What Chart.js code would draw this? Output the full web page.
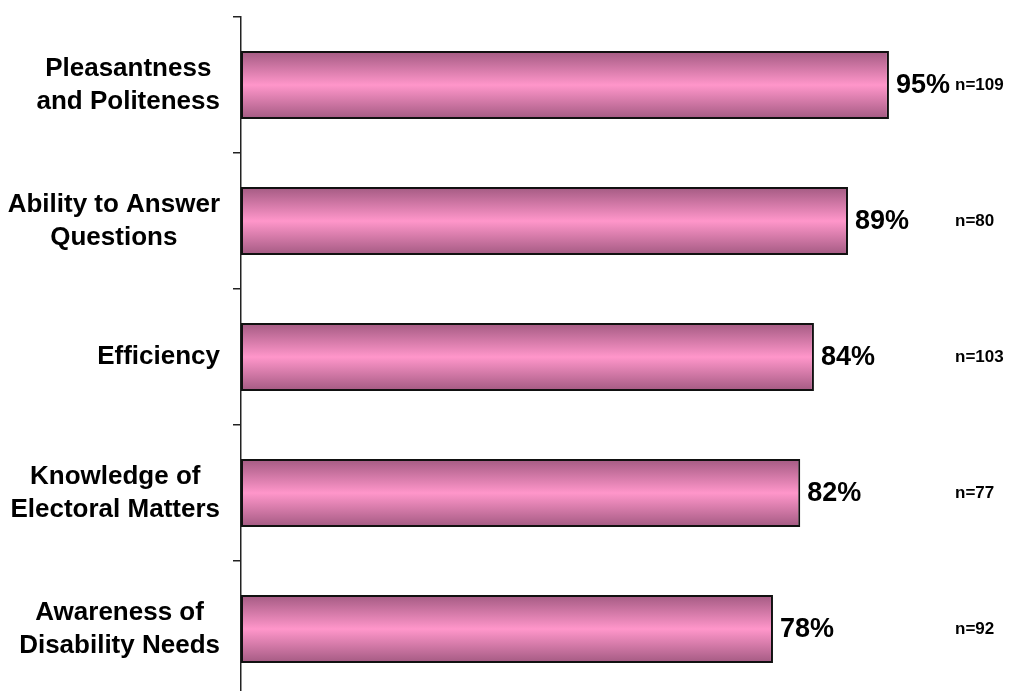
<!DOCTYPE html>
<html>
<head>
<meta charset="utf-8">
<script src="https://cdn.jsdelivr.net/npm/chart.js@4"></script>
<style>
  html, body { margin: 0; padding: 0; background: #fff; overflow: hidden; }
  #wrap { position: absolute; left: 0; top: 0; width: 1009px; height: 697px; }
</style>
</head>
<body>
<div id="wrap"><canvas id="chart"></canvas></div>
<script>
const categories = [
  ['Pleasantness', 'and Politeness'],
  ['Ability to Answer', 'Questions'],
  ['Efficiency'],
  ['Knowledge of', 'Electoral Matters'],
  ['Awareness of', 'Disability Needs']
];
const satisfaction = [95, 89, 84, 82, 78];
const sampleSizes = [109, 80, 103, 77, 92];

const FONT = '"Liberation Sans", Arial, sans-serif';

// vertical pink shading inside each bar
function barGradient(c) {
  const chart = c.chart;
  const ys = chart.scales.y;
  if (!chart.chartArea || !ys || c.dataIndex === undefined) return '#ff94c9';
  const cy = ys.getPixelForValue(c.dataIndex);
  const half = (ys.height / categories.length) * 0.25;
  const g = chart.ctx.createLinearGradient(0, cy - half, 0, cy + half);
  g.addColorStop(0, '#a35a82');
  g.addColorStop(0.5, '#ff96ca');
  g.addColorStop(1, '#a35a82');
  return g;
}

const labelPlugin = {
  id: 'labelPlugin',
  afterDraw(chart) {
    const ctx = chart.ctx;
    const ys = chart.scales.y;
    const meta = chart.getDatasetMeta(0);
    ctx.save();
    ctx.fillStyle = '#000';
    ctx.textBaseline = 'middle';

    // category names, lines centred, block right-aligned
    ctx.font = 'bold 26px ' + FONT;
    ctx.textAlign = 'center';
    categories.forEach((lines, i) => {
      const cy = ys.getPixelForValue(i);
      const w = Math.max(...lines.map(l => ctx.measureText(l).width));
      const cx = 220 - w / 2;
      const lh = 33;
      lines.forEach((l, k) => {
        ctx.fillText(l, cx, cy + (k - (lines.length - 1) / 2) * lh);
      });
    });

    // percentages at bar ends
    ctx.textAlign = 'left';
    ctx.font = 'bold 27px ' + FONT;
    meta.data.forEach((bar, i) => {
      ctx.fillText(satisfaction[i] + '%', bar.x + 7, bar.y + 1);
    });

    // sample sizes
    ctx.font = 'bold 17px ' + FONT;
    meta.data.forEach((bar, i) => {
      ctx.fillText('n=' + sampleSizes[i], 955, bar.y);
    });
    ctx.restore();
  }
};

new Chart(document.getElementById('chart'), {
  type: 'bar',
  data: {
    labels: categories,
    datasets: [{
      data: satisfaction,
      backgroundColor: barGradient,
      borderColor: '#111',
      borderWidth: 2,
      borderSkipped: false,
      barPercentage: 0.5,
      categoryPercentage: 1.0
    }]
  },
  options: {
    indexAxis: 'y',
    responsive: true,
    maintainAspectRatio: false,
    animation: false,
    layout: { padding: { top: 17, right: 86, bottom: 0, left: 0 } },
    plugins: {
      legend: { display: false },
      tooltip: { enabled: false }
    },
    scales: {
      x: { display: false, min: 0, max: 100 },
      y: {
        position: 'left',
        grid: { drawOnChartArea: false, drawTicks: true, tickLength: 8, color: '#222', lineWidth: 1.5 },
        border: { display: true, color: '#222', width: 1.5 },
        ticks: { display: false },
        afterFit(scale) { scale.width = 241; }
      }
    }
  },
  plugins: [labelPlugin]
});
</script>
</body>
</html>
